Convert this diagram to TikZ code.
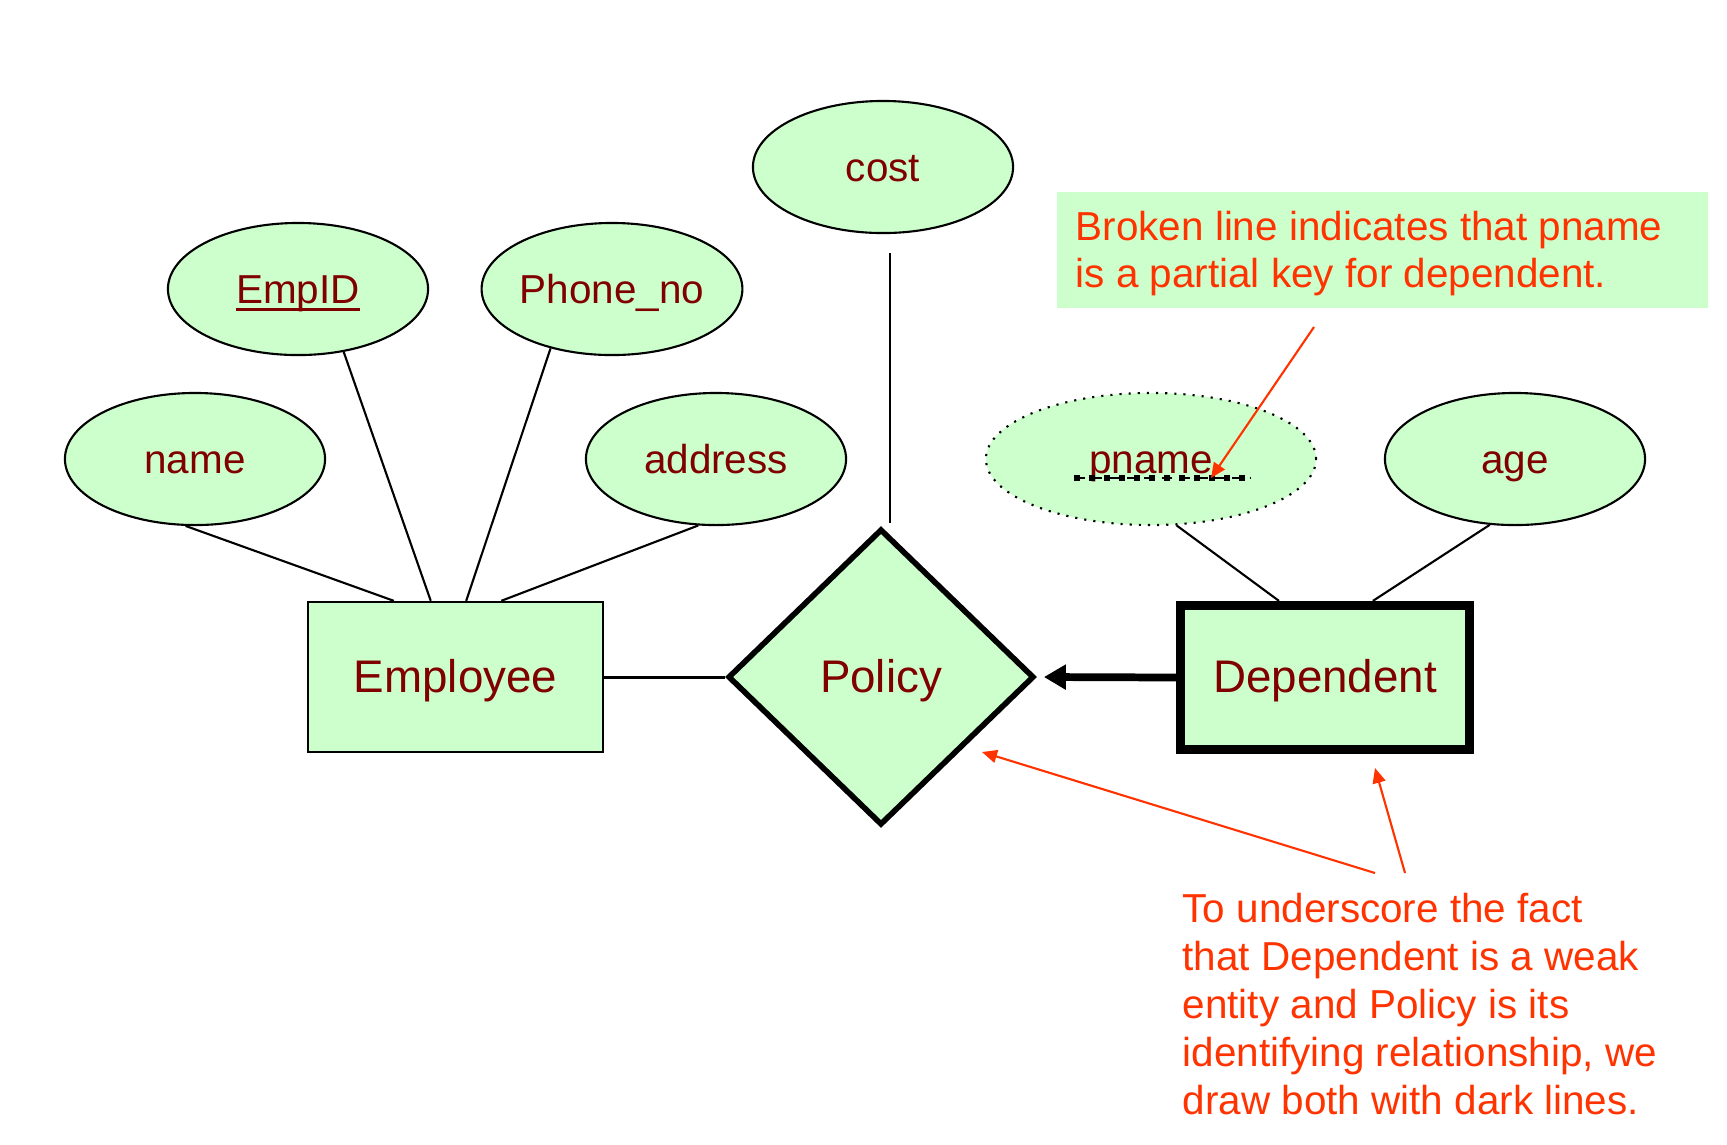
\documentclass[tikz,border=0pt]{standalone}
\usepackage{fontspec}
\setmainfont{Liberation Sans}
\usetikzlibrary{shapes.geometric,arrows.meta,calc}
\definecolor{erfill}{HTML}{CCFFCC}
\definecolor{ertext}{HTML}{800000}
\definecolor{notered}{HTML}{FF3300}
\newcommand\keyline[1]{\setbox0\hbox{#1}\rlap{\rule[-0.19em]{\wd0}{0.065em}}\box0}
\begin{document}
\begin{tikzpicture}[x=0.01cm,y=-0.01cm,
  attr/.style={ellipse,draw,line width=0.6pt,fill=erfill,minimum width=2.6cm,minimum height=1.32cm,inner sep=0pt,text=ertext,font=\fontsize{11.5}{13.8}\selectfont,text height=0.88em,text depth=0.08em},
  entity/.style={rectangle,draw,fill=erfill,minimum width=2.95cm,minimum height=1.5cm,inner sep=0pt,text=ertext,font=\fontsize{13}{15.6}\selectfont,text height=0.86em,text depth=0em},
  relation/.style={diamond,draw,line width=1.6pt,fill=erfill,minimum width=3.06cm,minimum height=2.96cm,inner sep=0pt,text=ertext,font=\fontsize{13}{15.6}\selectfont,text height=0.86em,text depth=0em},
  link/.style={line width=0.6pt},
  notearrow/.style={draw=notered,line width=0.6pt,-{Triangle[length=0.15cm,width=0.13cm]}},
  notetext/.style={text=notered,font=\fontsize{11.5}{13.5}\selectfont,align=left,inner sep=0pt,anchor=north west}]
\useasboundingbox (0,0) rectangle (1727,1144);

% attributes
\node[attr] (cost) at (883,167) {cost};
\node[attr] (empid) at (298,289) {\keyline{EmpID}};
\node[attr] (phone) at (612,289) {Phone\_no};
\node[attr] (name) at (195,459) {name};
\node[attr] (addr) at (716,459) {address};
\node[attr,dotted,minimum width=3.3cm] (pname) at (1151,459) {pname};
\node[attr] (age) at (1515,459) {age};

% entities and relationship
\node[entity,line width=0.65pt] (emp) at (455.5,677) {Employee};
\node[relation] (pol) at (881,677) {Policy};
\node[entity,line width=2.6pt,minimum width=2.89cm,minimum height=1.44cm] (dep) at (1325,677.5) {Dependent};

% partial key underline
\draw[line width=0.4pt,densely dashed] ($(pname.center)+(-77,19)$) coordinate (ulA) -- ($(pname.center)+(99,19)$) coordinate (ulB);
\draw[line width=0.065cm,dash pattern=on 0.06cm off 0.09cm] (ulA) -- (ulB);

% attribute links
\draw[link] (name.-98) -- (emp.129.4);
\draw[link] (empid.-54) -- (emp.108.5);
\draw[link] (phone.-136) -- (emp.82.9);
\draw[link] (addr.-105) -- (emp.59.1);
\draw[link] (pname.-69) -- (dep.121);
\draw[link] (age.-111) -- (dep.58.4);
\draw[link] ($(cost.south)+(7,19)$) -- ($(pol.north)+(9,-3)$);

% relationship links
\draw[line width=0.85pt] (emp.east) -- (pol.west);
\draw[line width=2.2pt,-{Triangle[length=0.22cm,width=0.24cm]}] (dep.west) -- ($(pol.east)+(7,0)$);

% note box
\node[fill=erfill,minimum width=6.51cm,minimum height=1.16cm,anchor=north west,inner sep=0pt] (notebox) at (1056,191) {};
\node[notetext] (note1) at (1075,210) {Broken line indicates that pname\\is a partial key for dependent.};
\coordinate (n1s) at (1314,327);
\coordinate (n1e) at (1211,478);
\draw[notearrow] (n1s) -- (n1e);

% bottom note
\node[notetext,font=\fontsize{11.5}{13.7}\selectfont] (note2) at (1182,892) {To underscore the fact\\that Dependent is a weak\\entity and Policy is its\\identifying relationship, we\\draw both with dark lines.};
\coordinate (n2s) at (1375,873);
\coordinate (n2e) at (982,752);
\coordinate (n3s) at (1405,873);
\coordinate (n3e) at (1375,768);
\draw[notearrow] (n2s) -- (n2e);
\draw[notearrow] (n3s) -- (n3e);
\end{tikzpicture}
\end{document}
